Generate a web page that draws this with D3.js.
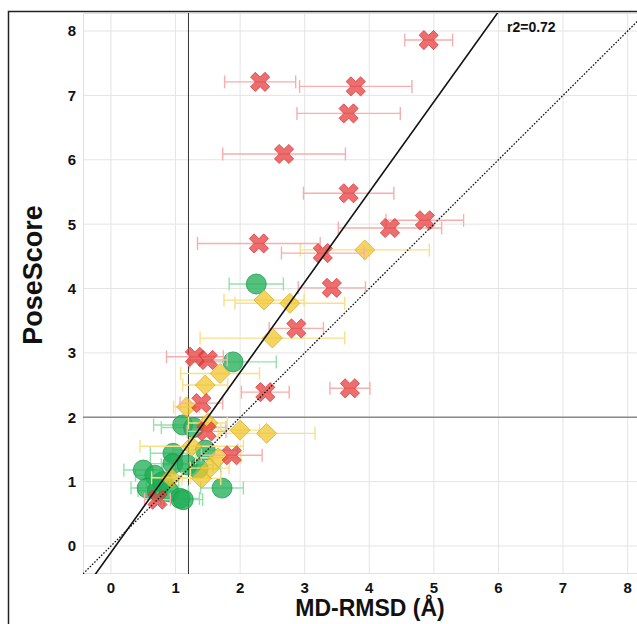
<!DOCTYPE html>
<html>
<head>
<meta charset="utf-8">
<script src="https://cdn.jsdelivr.net/npm/d3@7"></script>
<style>
  html, body { margin: 0; padding: 0; background: #fff; }
  svg { display: block; font-family: "Liberation Sans", Arial, Helvetica, sans-serif; }
</style>
</head>
<body>
<svg id="chart" width="637" height="624"></svg>
<script>
// ---- data: MD-RMSD (mean, sd) vs PoseScore, three pose classes ----
const crossRmsd  = [4.92, 2.31, 3.79, 3.68, 2.68, 3.68, 4.86, 4.32, 2.29, 3.28, 3.42, 2.87, 1.30, 1.50, 2.39, 3.70, 1.40, 1.48, 1.87, 0.72];
const crossScore = [7.86, 7.21, 7.14, 6.72, 6.09, 5.48, 5.06, 4.94, 4.70, 4.55, 4.01, 3.38, 2.94, 2.89, 2.39, 2.45, 2.22, 1.78, 1.41, 0.72];
const crossSd    = [0.37, 0.55, 0.87, 0.80, 0.95, 0.70, 0.60, 0.80, 0.95, 0.64, 0.52, 0.42, 0.44, 0.30, 0.37, 0.31, 0.33, 0.30, 0.47, 0.20];

const diamondRmsd  = [3.93, 2.37, 2.77, 2.50, 1.69, 1.46, 1.17, 2.00, 2.41, 1.50, 1.66, 1.53, 1.40, 0.93, 1.25];
const diamondScore = [4.60, 3.82, 3.77, 3.23, 2.68, 2.50, 2.16, 1.80, 1.75, 1.91, 1.37, 1.21, 1.05, 1.06, 1.55];
const diamondSd    = [1.00, 0.62, 0.85, 1.12, 0.61, 0.35, 0.20, 0.30, 0.75, 0.30, 0.35, 0.30, 0.30, 0.30, 0.80];

const circleRmsd  = [2.25, 1.89, 1.11, 1.28, 0.96, 1.46, 0.50, 0.68, 0.96, 1.18, 1.35, 0.56, 0.72, 0.90, 1.07, 1.72, 0.80, 1.12];
const circleScore = [4.07, 2.86, 1.88, 1.84, 1.44, 1.49, 1.18, 1.10, 1.28, 1.26, 1.20, 0.90, 0.86, 0.84, 0.74, 0.90, 1.00, 0.72];
const circleSd    = [0.42, 0.67, 0.45, 0.50, 0.35, 0.50, 0.30, 0.30, 0.35, 0.40, 0.35, 0.25, 0.30, 0.30, 0.30, 0.33, 0.25, 0.30];

const xTicks = [0, 1, 2, 3, 4, 5, 6, 7, 8];
const yTicks = [0, 1, 2, 3, 4, 5, 6, 7, 8];

// least-squares fit reported on the plot
const fitSlope = 1.40;
const fitIntercept = -0.10;
const fitLabel = "r2=0.72";
// reference thresholds
const rmsdCut = 1.2;
const scoreCut = 2;

// ---- layout ----
const svg = d3.select("#chart");
const plot = { left: 83, top: 13, right: 647, bottom: 574 };

const x = d3.scaleLinear().domain([-0.433, 8.3]).range([plot.left, plot.right]);
const y = d3.scaleLinear().domain([-0.435, 8.28]).range([plot.bottom, plot.top]);

// figure frame
svg.append("rect")
  .attr("x", 8.5).attr("y", 11.5).attr("width", 700).attr("height", 700)
  .attr("fill", "none").attr("stroke", "#222").attr("stroke-width", 1.5);

svg.append("defs").append("clipPath").attr("id", "plotclip")
  .append("rect")
  .attr("x", plot.left).attr("y", plot.top)
  .attr("width", plot.right - plot.left).attr("height", plot.bottom - plot.top);

const g = svg.append("g").attr("clip-path", "url(#plotclip)");

// grid
g.append("g").selectAll("line").data(xTicks).join("line")
  .attr("x1", d => x(d)).attr("x2", d => x(d))
  .attr("y1", plot.top).attr("y2", plot.bottom)
  .attr("stroke", "#e4e4e4").attr("stroke-width", 1);
g.append("g").selectAll("line").data(yTicks).join("line")
  .attr("y1", d => y(d)).attr("y2", d => y(d))
  .attr("x1", plot.left).attr("x2", plot.right)
  .attr("stroke", "#e4e4e4").attr("stroke-width", 1);
g.append("rect")
  .attr("x", plot.left + 0.5).attr("y", plot.top + 0.5)
  .attr("width", plot.right - plot.left).attr("height", plot.bottom - plot.top - 1)
  .attr("fill", "none").attr("stroke", "#e0e0e0");

// threshold lines
g.append("line")
  .attr("x1", x(rmsdCut)).attr("x2", x(rmsdCut))
  .attr("y1", plot.top).attr("y2", plot.bottom)
  .attr("stroke", "#333").attr("stroke-width", 1);
g.append("line")
  .attr("x1", plot.left).attr("x2", plot.right)
  .attr("y1", y(scoreCut)).attr("y2", y(scoreCut))
  .attr("stroke", "#8a8a8a").attr("stroke-width", 1.5);

// marker shapes
function xPath(s) {
  // filled X: a plus rotated by 45 degrees
  const a = s * 0.33, b = s;
  const pts = [[a,a],[b,a],[b,-a],[a,-a],[a,-b],[-a,-b],[-a,-a],[-b,-a],[-b,a],[-a,a],[-a,b],[a,b]];
  const c = Math.SQRT1_2;
  return "M" + pts.map(([px, py]) => [(px - py) * c, (px + py) * c].join(",")).join("L") + "Z";
}
function diamondPath(h) {
  return `M0,${-h}L${h},0L0,${h}L${-h},0Z`;
}

function drawSeries(rmsd, score, sd, opt) {
  const data = rmsd.map((v, i) => ({ x: v, y: score[i], sd: sd[i] }));
  const layer = g.append("g");
  const bars = layer.append("g")
    .attr("stroke", opt.bar).attr("stroke-width", 1.4).attr("fill", "none");
  data.forEach(d => {
    const yy = y(d.y), x0 = x(d.x - d.sd), x1 = x(d.x + d.sd);
    bars.append("line").attr("x1", x0).attr("x2", x1).attr("y1", yy).attr("y2", yy);
    bars.append("line").attr("x1", x0).attr("x2", x0).attr("y1", yy - 6.5).attr("y2", yy + 6.5);
    bars.append("line").attr("x1", x1).attr("x2", x1).attr("y1", yy - 6.5).attr("y2", yy + 6.5);
  });
  const marks = layer.append("g");
  if (opt.shape === "circle") {
    marks.selectAll("circle").data(data).join("circle")
      .attr("cx", d => x(d.x)).attr("cy", d => y(d.y)).attr("r", 10)
      .attr("fill", opt.fill).attr("fill-opacity", opt.alpha)
      .attr("stroke", opt.edge).attr("stroke-opacity", opt.alpha).attr("stroke-width", 1);
  } else {
    marks.selectAll("path").data(data).join("path")
      .attr("transform", d => `translate(${x(d.x)},${y(d.y)})`)
      .attr("d", opt.shape === "x" ? xPath(10.2) : diamondPath(10))
      .attr("fill", opt.fill).attr("fill-opacity", opt.alpha)
      .attr("stroke", opt.edge).attr("stroke-opacity", opt.alpha).attr("stroke-width", 1);
  }
}

drawSeries(circleRmsd, circleScore, circleSd,
  { shape: "circle", fill: "#1fae55", edge: "#1a9a4a", bar: "#95e0ad", alpha: 0.76 });
drawSeries(diamondRmsd, diamondScore, diamondSd,
  { shape: "diamond", fill: "#f0c52e", edge: "#d8ad20", bar: "#f9df85", alpha: 0.75 });
drawSeries(crossRmsd, crossScore, crossSd,
  { shape: "x", fill: "#e63c3c", edge: "#d63636", bar: "#f9adad", alpha: 0.74 });

// identity and fitted lines
const xd = x.domain();
g.append("line")
  .attr("x1", x(xd[0])).attr("y1", y(xd[0]))
  .attr("x2", x(xd[1])).attr("y2", y(xd[1]))
  .attr("stroke", "#111").attr("stroke-width", 1.3).attr("stroke-dasharray", "1.6,1.6");
g.append("line")
  .attr("x1", x(xd[0])).attr("y1", y(fitSlope * xd[0] + fitIntercept))
  .attr("x2", x(xd[1])).attr("y2", y(fitSlope * xd[1] + fitIntercept))
  .attr("stroke", "#111").attr("stroke-width", 1.6);

svg.append("text")
  .attr("x", 507).attr("y", 31.5)
  .attr("font-size", 14).attr("font-weight", "bold").attr("fill", "#111")
  .text(fitLabel);

// tick labels
svg.append("g").selectAll("text").data(xTicks).join("text")
  .attr("x", d => x(d)).attr("y", 593)
  .attr("text-anchor", "middle").attr("font-size", 15).attr("font-weight", "bold").attr("fill", "#111")
  .text(d => d);
svg.append("g").selectAll("text").data(yTicks).join("text")
  .attr("x", 76).attr("y", d => y(d)).attr("dy", "0.36em")
  .attr("text-anchor", "end").attr("font-size", 15).attr("font-weight", "bold").attr("fill", "#111")
  .text(d => d);

// axis titles
svg.append("text")
  .attr("x", 370).attr("y", 616)
  .attr("text-anchor", "middle").attr("font-size", 23).attr("font-weight", "bold").attr("fill", "#111")
  .text("MD-RMSD (Å)");
svg.append("text")
  .attr("transform", "translate(42,275) rotate(-90)")
  .attr("text-anchor", "middle").attr("font-size", 27).attr("font-weight", "bold").attr("fill", "#111")
  .text("PoseScore");
</script>
</body>
</html>
